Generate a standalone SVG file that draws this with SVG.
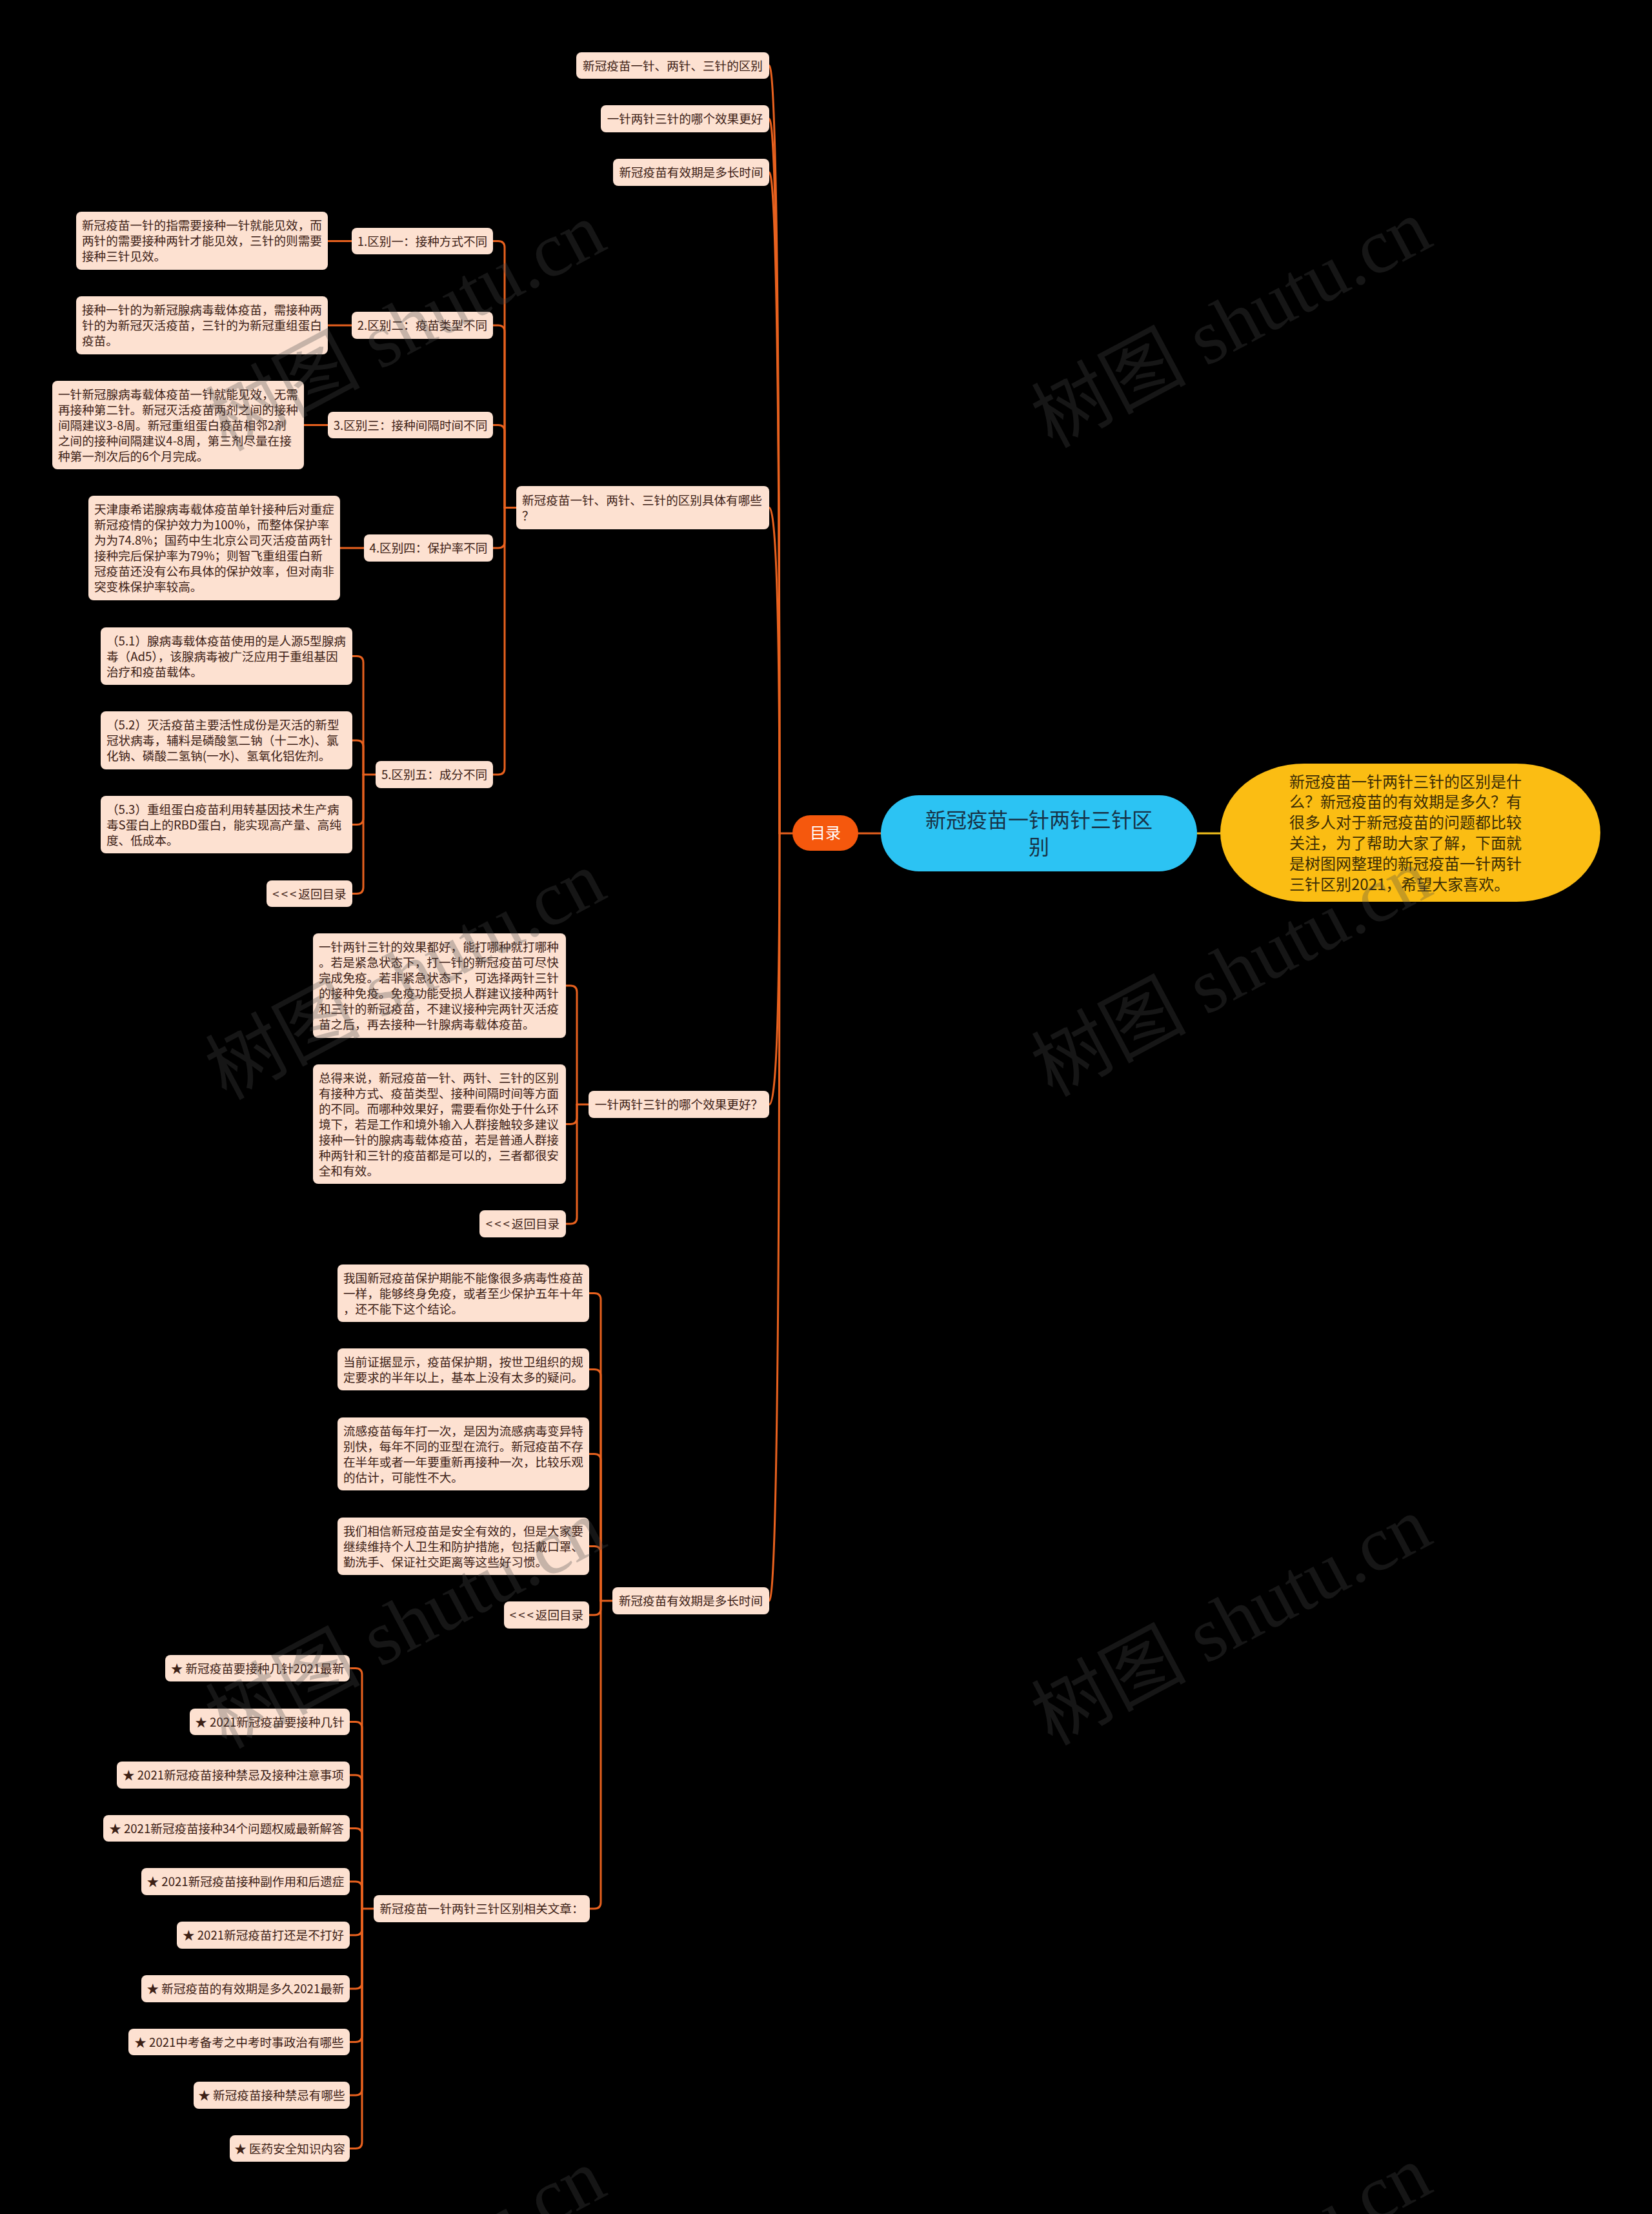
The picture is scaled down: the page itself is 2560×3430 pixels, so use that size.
<svg xmlns="http://www.w3.org/2000/svg" width="2560" height="3430" viewBox="0 0 2560 3430">
<style>
.bg{fill:#000}
.n{fill:#fde1d1}
.t{font-family:"Noto Sans CJK SC","Noto Sans",sans-serif;font-size:18.6px;fill:#3c2015}
.m{text-anchor:middle}
.lt{letter-spacing:3px}
.c{fill:none;stroke:#e8611e;stroke-width:3;stroke-linecap:round;stroke-linejoin:round}
.wm{font-family:"Liberation Serif","Noto Sans CJK SC",serif;font-size:120px;fill:#484848;fill-opacity:0.3}
</style>
<rect class="bg" x="0" y="0" width="2560" height="3430"/>

<g id="connectors">
  <path class="c" d="M1192 101.5 Q1208 101.5 1208 1291"/>
  <path class="c" d="M1192 184 Q1208 184 1208 1291"/>
  <path class="c" d="M1192 267 Q1208 267 1208 1291"/>
  <path class="c" d="M1192 786.5 Q1208 786.5 1208 1291"/>
  <path class="c" d="M1192 1711 Q1208 1711 1208 1291"/>
  <path class="c" d="M1192 2480 Q1208 2480 1208 1291"/>
  <path class="c" d="M1208 1291 L1228 1291"/>
  <path class="c" d="M1330 1291 L1365 1291"/>
  <path fill="none" stroke="#f6c21c" stroke-width="3" d="M1855 1291 L1891 1291"/>
  <path class="c" d="M764 373.5 L772 373.5 Q782 373.5 782 383.5 L782 786.5"/>
  <path class="c" d="M764 504 L772 504 Q782 504 782 514 L782 786.5"/>
  <path class="c" d="M764 658.5 L772 658.5 Q782 658.5 782 668.5 L782 786.5"/>
  <path class="c" d="M764 849 L772 849 Q782 849 782 839 L782 786.5"/>
  <path class="c" d="M764 1200 L772 1200 Q782 1200 782 1190 L782 786.5"/>
  <path class="c" d="M782 786.5 L800 786.5"/>
  <path class="c" d="M508 373.5 L545 373.5"/>
  <path class="c" d="M508 504 L545 504"/>
  <path class="c" d="M471 658.5 L508 658.5"/>
  <path class="c" d="M527 849 L564 849"/>
  <path class="c" d="M546 1016.5 L553 1016.5 Q563 1016.5 563 1026.5 L563 1200"/>
  <path class="c" d="M546 1147 L553 1147 Q563 1147 563 1157 L563 1200"/>
  <path class="c" d="M546 1277.5 L553 1277.5 Q563 1277.5 563 1267.5 L563 1200"/>
  <path class="c" d="M546 1384.5 L553 1384.5 Q563 1384.5 563 1374.5 L563 1200"/>
  <path class="c" d="M563 1200 L582 1200"/>
  <path class="c" d="M877 1527 L884 1527 Q894 1527 894 1537 L894 1711"/>
  <path class="c" d="M877 1741.5 L884 1741.5 Q894 1741.5 894 1731.5 L894 1711"/>
  <path class="c" d="M877 1896 L884 1896 Q894 1896 894 1886 L894 1711"/>
  <path class="c" d="M894 1711 L912 1711"/>
  <path class="c" d="M913 2003.5 L921 2003.5 Q931 2003.5 931 2013.5 L931 2480"/>
  <path class="c" d="M913 2121.5 L921 2121.5 Q931 2121.5 931 2131.5 L931 2480"/>
  <path class="c" d="M913 2252.5 L921 2252.5 Q931 2252.5 931 2262.5 L931 2480"/>
  <path class="c" d="M913 2395.5 L921 2395.5 Q931 2395.5 931 2405.5 L931 2480"/>
  <path class="c" d="M913 2502 L921 2502 Q931 2502 931 2492 L931 2480"/>
  <path class="c" d="M914 2957 L921 2957 Q931 2957 931 2947 L931 2480"/>
  <path class="c" d="M931 2480 L949 2480"/>
  <path class="c" d="M542 2584.5 L551 2584.5 Q561 2584.5 561 2594.5 L561 2957"/>
  <path class="c" d="M542 2667.5 L551 2667.5 Q561 2667.5 561 2677.5 L561 2957"/>
  <path class="c" d="M542 2750 L551 2750 Q561 2750 561 2760 L561 2957"/>
  <path class="c" d="M542 2832.5 L551 2832.5 Q561 2832.5 561 2842.5 L561 2957"/>
  <path class="c" d="M542 2915 L551 2915 Q561 2915 561 2925 L561 2957"/>
  <path class="c" d="M542 2998 L551 2998 Q561 2998 561 2988 L561 2957"/>
  <path class="c" d="M542 3081 L551 3081 Q561 3081 561 3071 L561 2957"/>
  <path class="c" d="M542 3163.5 L551 3163.5 Q561 3163.5 561 3153.5 L561 2957"/>
  <path class="c" d="M542 3246 L551 3246 Q561 3246 561 3236 L561 2957"/>
  <path class="c" d="M542 3328.5 L551 3328.5 Q561 3328.5 561 3318.5 L561 2957"/>
  <path class="c" d="M561 2957 L579 2957"/>
</g>

<g id="n-center">
  <rect x="1365" y="1232" width="490" height="118" rx="59" fill="#2cc3f3"/>
  <text font-family="Noto Sans CJK SC, sans-serif" font-size="32" fill="#173246" text-anchor="middle"><tspan x="1610" y="1282">新冠疫苗一针两针三针区</tspan><tspan x="1610" y="1324">别</tspan></text>
</g>
<g id="n-intro">
  <rect x="1891" y="1183" width="589" height="214" rx="130" ry="107" fill="#fbbd13"/>
  <text font-family="Noto Sans CJK SC, sans-serif" font-size="24" fill="#3a2c05"><tspan x="1998" y="1219.5">新冠疫苗一针两针三针的区别是什</tspan><tspan x="1998" y="1251.3">么？新冠疫苗的有效期是多久？有</tspan><tspan x="1998" y="1283.1">很多人对于新冠疫苗的问题都比较</tspan><tspan x="1998" y="1314.9">关注，为了帮助大家了解，下面就</tspan><tspan x="1998" y="1346.7">是树图网整理的新冠疫苗一针两针</tspan><tspan x="1998" y="1378.5">三针区别2021，希望大家喜欢。</tspan></text>
</g>
<g id="n-toc">
  <rect x="1228" y="1263" width="102" height="55" rx="27.5" fill="#f5580d"/>
  <text x="1279" y="1299" font-family="Noto Sans CJK SC, sans-serif" font-size="24" fill="#ffffff" text-anchor="middle">目录</text>
</g>

<g id="n-t1"><rect class="n" x="893" y="81" width="299" height="41" rx="8"/><text class="t m" x="1042.5" y="108.5">新冠疫苗一针、两针、三针的区别</text></g>
<g id="n-t2"><rect class="n" x="931" y="163" width="261" height="42" rx="8"/><text class="t m" x="1061.5" y="191">一针两针三针的哪个效果更好</text></g>
<g id="n-t3"><rect class="n" x="950" y="246" width="242" height="42" rx="8"/><text class="t m" x="1071" y="274">新冠疫苗有效期是多长时间</text></g>

<g id="n-diff"><rect class="n" x="800" y="753" width="392" height="67" rx="8"/><text class="t"><tspan x="809" y="781.5">新冠疫苗一针、两针、三针的区别具体有哪些</tspan><tspan x="809" y="805.5">？</tspan></text></g>
<g id="n-d1"><rect class="n" x="545" y="353" width="219" height="41" rx="8"/><text class="t m" x="654.5" y="380.5">1.区别一：接种方式不同</text></g>
<g id="n-d2"><rect class="n" x="545" y="483" width="219" height="42" rx="8"/><text class="t m" x="654.5" y="511">2.区别二：疫苗类型不同</text></g>
<g id="n-d3"><rect class="n" x="508" y="638" width="256" height="41" rx="8"/><text class="t m" x="636" y="665.5">3.区别三：接种间隔时间不同</text></g>
<g id="n-d4"><rect class="n" x="564" y="828" width="200" height="42" rx="8"/><text class="t m" x="664" y="856">4.区别四：保护率不同</text></g>
<g id="n-d5"><rect class="n" x="582" y="1179" width="182" height="42" rx="8"/><text class="t m" x="673" y="1207">5.区别五：成分不同</text></g>

<g id="n-k1"><rect class="n" x="118" y="328" width="390" height="90" rx="8"/><text class="t"><tspan x="127" y="356">新冠疫苗一针的指需要接种一针就能见效，而</tspan><tspan x="127" y="380">两针的需要接种两针才能见效，三针的则需要</tspan><tspan x="127" y="404">接种三针见效。</tspan></text></g>
<g id="n-k2"><rect class="n" x="118" y="459" width="390" height="90" rx="8"/><text class="t"><tspan x="127" y="487">接种一针的为新冠腺病毒载体疫苗，需接种两</tspan><tspan x="127" y="511">针的为新冠灭活疫苗，三针的为新冠重组蛋白</tspan><tspan x="127" y="535">疫苗。</tspan></text></g>
<g id="n-k3"><rect class="n" x="81" y="590" width="390" height="137" rx="8"/><text class="t"><tspan x="90" y="617.5">一针新冠腺病毒载体疫苗一针就能见效，无需</tspan><tspan x="90" y="641.5">再接种第二针。新冠灭活疫苗两剂之间的接种</tspan><tspan x="90" y="665.5">间隔建议3-8周。新冠重组蛋白疫苗相邻2剂</tspan><tspan x="90" y="689.5">之间的接种间隔建议4-8周，第三剂尽量在接</tspan><tspan x="90" y="713.5">种第一剂次后的6个月完成。</tspan></text></g>
<g id="n-k4"><rect class="n" x="137" y="768" width="390" height="162" rx="8"/><text class="t"><tspan x="146" y="796">天津康希诺腺病毒载体疫苗单针接种后对重症</tspan><tspan x="146" y="820">新冠疫情的保护效力为100%，而整体保护率</tspan><tspan x="146" y="844">为为74.8%；国药中生北京公司灭活疫苗两针</tspan><tspan x="146" y="868">接种完后保护率为79%；则智飞重组蛋白新</tspan><tspan x="146" y="892">冠疫苗还没有公布具体的保护效率，但对南非</tspan><tspan x="146" y="916">突变株保护率较高。</tspan></text></g>
<g id="n-k51"><rect class="n" x="156" y="972" width="390" height="89" rx="8"/><text class="t"><tspan x="165" y="999.5">（5.1）腺病毒载体疫苗使用的是人源5型腺病</tspan><tspan x="165" y="1023.5">毒（Ad5），该腺病毒被广泛应用于重组基因</tspan><tspan x="165" y="1047.5">治疗和疫苗载体。</tspan></text></g>
<g id="n-k52"><rect class="n" x="156" y="1102" width="390" height="90" rx="8"/><text class="t"><tspan x="165" y="1130">（5.2）灭活疫苗主要活性成份是灭活的新型</tspan><tspan x="165" y="1154">冠状病毒，辅料是磷酸氢二钠（十二水)、氯</tspan><tspan x="165" y="1178">化钠、磷酸二氢钠(一水)、氢氧化铝佐剂。</tspan></text></g>
<g id="n-k53"><rect class="n" x="156" y="1233" width="390" height="89" rx="8"/><text class="t"><tspan x="165" y="1260.5">（5.3）重组蛋白疫苗利用转基因技术生产病</tspan><tspan x="165" y="1284.5">毒S蛋白上的RBD蛋白，能实现高产量、高纯</tspan><tspan x="165" y="1308.5">度、低成本。</tspan></text></g>
<g id="n-back1"><rect class="n" x="413" y="1364" width="133" height="41" rx="8"/><text class="t m" x="479.5" y="1391.5"><tspan class="lt">&lt;&lt;&lt;</tspan>返回目录</text></g>

<g id="n-eff"><rect class="n" x="912" y="1690" width="280" height="42" rx="8"/><text class="t m" x="1052" y="1718">一针两针三针的哪个效果更好？</text></g>
<g id="n-a"><rect class="n" x="485" y="1446" width="392" height="162" rx="8"/><text class="t"><tspan x="494" y="1474">一针两针三针的效果都好，能打哪种就打哪种</tspan><tspan x="494" y="1498">。若是紧急状态下，打一针的新冠疫苗可尽快</tspan><tspan x="494" y="1522">完成免疫。若非紧急状态下，可选择两针三针</tspan><tspan x="494" y="1546">的接种免疫。免疫功能受损人群建议接种两针</tspan><tspan x="494" y="1570">和三针的新冠疫苗，不建议接种完两针灭活疫</tspan><tspan x="494" y="1594">苗之后，再去接种一针腺病毒载体疫苗。</tspan></text></g>
<g id="n-b"><rect class="n" x="485" y="1649" width="392" height="185" rx="8"/><text class="t"><tspan x="494" y="1676.5">总得来说，新冠疫苗一针、两针、三针的区别</tspan><tspan x="494" y="1700.5">有接种方式、疫苗类型、接种间隔时间等方面</tspan><tspan x="494" y="1724.5">的不同。而哪种效果好，需要看你处于什么环</tspan><tspan x="494" y="1748.5">境下，若是工作和境外输入人群接触较多建议</tspan><tspan x="494" y="1772.5">接种一针的腺病毒载体疫苗，若是普通人群接</tspan><tspan x="494" y="1796.5">种两针和三针的疫苗都是可以的，三者都很安</tspan><tspan x="494" y="1820.5">全和有效。</tspan></text></g>
<g id="n-back2"><rect class="n" x="743" y="1875" width="134" height="42" rx="8"/><text class="t m" x="810" y="1903"><tspan class="lt">&lt;&lt;&lt;</tspan>返回目录</text></g>

<g id="n-valid"><rect class="n" x="949" y="2459" width="243" height="42" rx="8"/><text class="t m" x="1070.5" y="2487">新冠疫苗有效期是多长时间</text></g>
<g id="n-c1"><rect class="n" x="523" y="1959" width="390" height="89" rx="8"/><text class="t"><tspan x="532" y="1986.5">我国新冠疫苗保护期能不能像很多病毒性疫苗</tspan><tspan x="532" y="2010.5">一样，能够终身免疫，或者至少保护五年十年</tspan><tspan x="532" y="2034.5">，还不能下这个结论。</tspan></text></g>
<g id="n-c2"><rect class="n" x="523" y="2089" width="390" height="65" rx="8"/><text class="t"><tspan x="532" y="2116.5">当前证据显示，疫苗保护期，按世卫组织的规</tspan><tspan x="532" y="2140.5">定要求的半年以上，基本上没有太多的疑问。</tspan></text></g>
<g id="n-c3"><rect class="n" x="523" y="2196" width="390" height="113" rx="8"/><text class="t"><tspan x="532" y="2223.5">流感疫苗每年打一次，是因为流感病毒变异特</tspan><tspan x="532" y="2247.5">别快，每年不同的亚型在流行。新冠疫苗不存</tspan><tspan x="532" y="2271.5">在半年或者一年要重新再接种一次，比较乐观</tspan><tspan x="532" y="2295.5">的估计，可能性不大。</tspan></text></g>
<g id="n-c4"><rect class="n" x="523" y="2351" width="390" height="89" rx="8"/><text class="t"><tspan x="532" y="2378.5">我们相信新冠疫苗是安全有效的，但是大家要</tspan><tspan x="532" y="2402.5">继续维持个人卫生和防护措施，包括戴口罩、</tspan><tspan x="532" y="2426.5">勤洗手、保证社交距离等这些好习惯。</tspan></text></g>
<g id="n-back3"><rect class="n" x="781" y="2481" width="132" height="42" rx="8"/><text class="t m" x="847" y="2509"><tspan class="lt">&lt;&lt;&lt;</tspan>返回目录</text></g>

<g id="n-rel"><rect class="n" x="579" y="2936" width="335" height="42" rx="8"/><text class="t m" x="746.5" y="2964">新冠疫苗一针两针三针区别相关文章：</text></g>
<g id="n-r1"><rect class="n" x="256" y="2564" width="286" height="41" rx="8"/><text class="t m" x="399" y="2591.5">★ 新冠疫苗要接种几针2021最新</text></g>
<g id="n-r2"><rect class="n" x="294" y="2647" width="248" height="41" rx="8"/><text class="t m" x="418" y="2674.5">★ 2021新冠疫苗要接种几针</text></g>
<g id="n-r3"><rect class="n" x="181" y="2729" width="361" height="42" rx="8"/><text class="t m" x="361.5" y="2757">★ 2021新冠疫苗接种禁忌及接种注意事项</text></g>
<g id="n-r4"><rect class="n" x="160" y="2812" width="382" height="41" rx="8"/><text class="t m" x="351" y="2839.5">★ 2021新冠疫苗接种34个问题权威最新解答</text></g>
<g id="n-r5"><rect class="n" x="219" y="2894" width="323" height="42" rx="8"/><text class="t m" x="380.5" y="2922">★ 2021新冠疫苗接种副作用和后遗症</text></g>
<g id="n-r6"><rect class="n" x="274" y="2977" width="268" height="42" rx="8"/><text class="t m" x="408" y="3005">★ 2021新冠疫苗打还是不打好</text></g>
<g id="n-r7"><rect class="n" x="219" y="3060" width="323" height="42" rx="8"/><text class="t m" x="380.5" y="3088">★ 新冠疫苗的有效期是多久2021最新</text></g>
<g id="n-r8"><rect class="n" x="199" y="3143" width="343" height="41" rx="8"/><text class="t m" x="370.5" y="3170.5">★ 2021中考备考之中考时事政治有哪些</text></g>
<g id="n-r9"><rect class="n" x="300" y="3225" width="242" height="42" rx="8"/><text class="t m" x="421" y="3253">★ 新冠疫苗接种禁忌有哪些</text></g>
<g id="n-r10"><rect class="n" x="356" y="3308" width="186" height="41" rx="8"/><text class="t m" x="449" y="3335.5">★ 医药安全知识内容</text></g>

<g id="watermark">
  <text class="wm" transform="translate(350 700) rotate(-28)">树图 shutu.cn</text>
  <text class="wm" transform="translate(1630 695) rotate(-28)">树图 shutu.cn</text>
  <text class="wm" transform="translate(350 1705) rotate(-28)">树图 shutu.cn</text>
  <text class="wm" transform="translate(1630 1700) rotate(-28)">树图 shutu.cn</text>
  <text class="wm" transform="translate(350 2710) rotate(-28)">树图 shutu.cn</text>
  <text class="wm" transform="translate(1630 2705) rotate(-28)">树图 shutu.cn</text>
  <text class="wm" transform="translate(350 3715) rotate(-28)">树图 shutu.cn</text>
  <text class="wm" transform="translate(1630 3710) rotate(-28)">树图 shutu.cn</text>
</g>
</svg>
